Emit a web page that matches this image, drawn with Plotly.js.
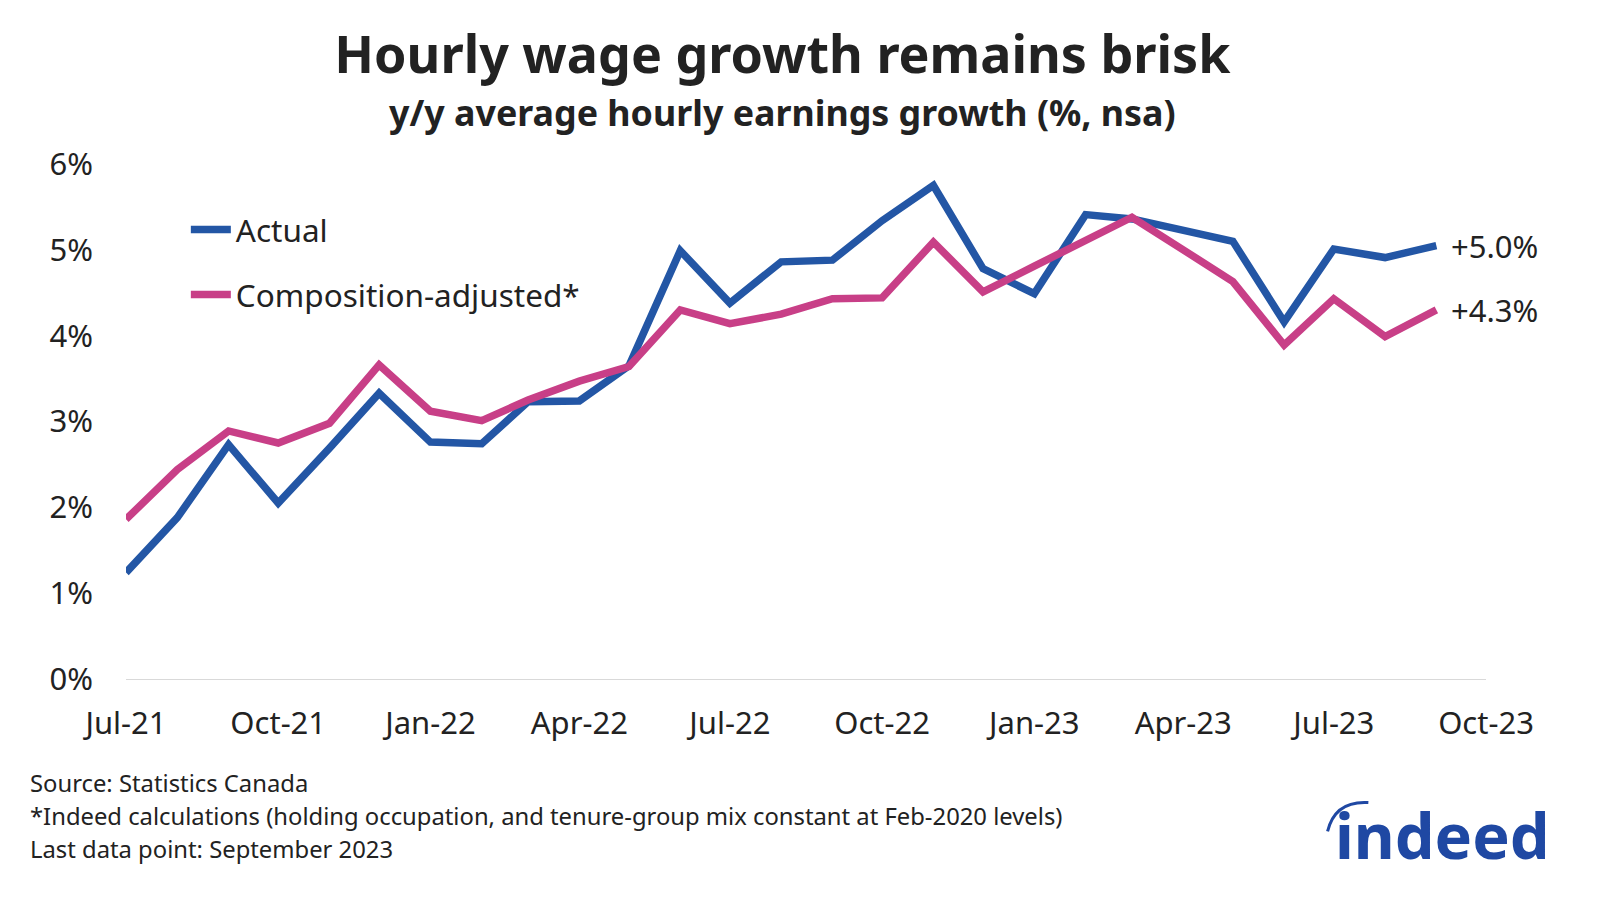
<!DOCTYPE html>
<html>
<head>
<meta charset="utf-8">
<script src="https://cdn.plot.ly/plotly-3.0.1.min.js"></script>
<style>html,body{margin:0;padding:0;background:#fff;}#chart{width:1600px;height:898px;}</style>
</head>
<body>
<div id="chart"></div>
<script>
const months = ["2021-07-01","2021-08-01","2021-09-01","2021-10-01","2021-11-01","2021-12-01",
  "2022-01-01","2022-02-01","2022-03-01","2022-04-01","2022-05-01","2022-06-01",
  "2022-07-01","2022-08-01","2022-09-01","2022-10-01","2022-11-01","2022-12-01",
  "2023-01-01","2023-02-01","2023-03-01","2023-04-01","2023-05-01","2023-06-01",
  "2023-07-01","2023-08-01","2023-09-01"];
const actual = [1.24,1.88,2.73,2.05,2.69,3.33,2.76,2.74,3.23,3.24,3.65,4.99,
  4.38,4.86,4.88,5.34,5.75,4.78,4.49,5.41,5.36,5.23,5.10,4.16,5.01,4.91,5.05];
const adjusted = [1.86,2.44,2.89,2.75,2.98,3.66,3.12,3.01,3.25,3.47,3.64,4.30,
  4.14,4.25,4.43,4.44,5.09,4.51,4.81,5.12,5.38,5.00,4.63,3.89,4.43,3.99,4.30];
const seriesNames = ["Actual","Composition-adjusted*"];
const endLabels = ["+5.0%","+4.3%"];
const yTicks = [0,1,2,3,4,5,6];
const yTickText = ["0%","1%","2%","3%","4%","5%","6%"];

const BLUE = "#2356a5", PINK = "#c83f87";
const FONT = "Noto Sans, Open Sans, sans-serif";

const traces = [
  {x: months, y: actual, name: seriesNames[0], type: "scatter", mode: "lines",
   line: {color: BLUE, width: 7.5}, legendgroup: "a"},
  {x: months, y: adjusted, name: seriesNames[1], type: "scatter", mode: "lines",
   line: {color: PINK, width: 7.5}, legendgroup: "b"}
];

const last = months.length - 1;
const annotations = [
  {text: "y/y average hourly earnings growth (%, nsa)", xref: "paper", yref: "paper",
   x: 0.483, y: 1.101, xanchor: "center", yanchor: "middle", showarrow: false,
   font: {family: FONT, size: 35.8, color: "#222", weight: 700}},
  {text: endLabels[0], x: months[last], y: actual[last], xanchor: "left", yanchor: "middle",
   xshift: 13, showarrow: false, font: {family: FONT, size: 31, color: "#222"}},
  {text: endLabels[1], x: months[last], y: adjusted[last], xanchor: "left", yanchor: "middle",
   xshift: 13, showarrow: false, font: {family: FONT, size: 31, color: "#222"}},
  {text: "Source: Statistics Canada", xref: "paper", yref: "paper", x: -0.072, y: -0.202,
   xanchor: "left", yanchor: "middle", showarrow: false, font: {family: FONT, size: 23.8, color: "#222"}},
  {text: "*Indeed calculations (holding occupation, and tenure-group mix constant at Feb-2020 levels)",
   xref: "paper", yref: "paper", x: -0.072, y: -0.266,
   xanchor: "left", yanchor: "middle", showarrow: false, font: {family: FONT, size: 23.8, color: "#222"}},
  {text: "Last data point: September 2023", xref: "paper", yref: "paper", x: -0.072, y: -0.330,
   xanchor: "left", yanchor: "middle", showarrow: false, font: {family: FONT, size: 23.8, color: "#222"}},
  {text: "indeed", xref: "paper", yref: "paper", x: 0.968, y: -0.302,
   xanchor: "center", yanchor: "middle", showarrow: false,
   font: {family: FONT, size: 63, color: "#1f48a3", weight: 700}}
];

const shapes = [
  {type: "path", xref: "paper", yref: "paper",
   path: "M 0.8835 -0.296 Q 0.889 -0.236 0.9135 -0.240",
   line: {color: "#1f48a3", width: 3}}
];

const layout = {
  width: 1600, height: 898,
  paper_bgcolor: "#fff", plot_bgcolor: "#fff",
  margin: {l: 126, r: 114, t: 164, b: 219},
  title: {text: "Hourly wage growth remains brisk", x: 0.489, xanchor: "center",
          y: 0.939, yanchor: "middle", yref: "container",
          font: {family: FONT, size: 52, color: "#222", weight: 700}},
  showlegend: true,
  legend: {x: 0.044, y: 0.925, xanchor: "left", yanchor: "top", bgcolor: "rgba(0,0,0,0)",
           font: {family: FONT, size: 31.5, color: "#222"}, tracegroupgap: 21,
           traceorder: "grouped", itemwidth: 40},
  xaxis: {type: "date", range: ["2021-07-01","2023-10-01"], tick0: "2021-07-01", dtick: "M3",
          tickformat: "%b-%y", showgrid: false, zeroline: false, showline: true,
          linecolor: "#d9d9d9", linewidth: 1, ticks: "", ticklabelstandoff: 17,
          tickfont: {family: FONT, size: 31, color: "#222"}},
  yaxis: {range: [0, 6], tickvals: yTicks, ticktext: yTickText, showgrid: false,
          zeroline: false, showline: false, ticks: "", ticklabelstandoff: 32,
          tickfont: {family: FONT, size: 31, color: "#222"}},
  annotations: annotations,
  shapes: shapes
};

Plotly.newPlot("chart", traces, layout, {displayModeBar: false, staticPlot: true});
</script>
</body>
</html>
